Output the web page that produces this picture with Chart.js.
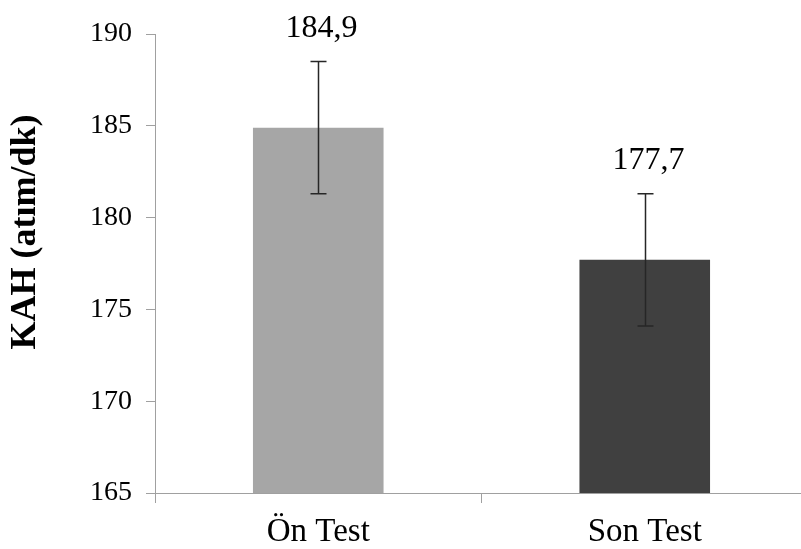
<!DOCTYPE html>
<html>
<head>
<meta charset="utf-8">
<script src="https://cdn.jsdelivr.net/npm/chart.js@4"></script>
<style>
  html, body { margin: 0; padding: 0; background: #fff; overflow: hidden; }
  #wrap { width: 801px; height: 549px; overflow: hidden; }
</style>
</head>
<body>
<div id="wrap">
  <canvas id="chart" width="812" height="549"></canvas>
</div>
<script>
/* ===== DATA ===== */
const categories = ['Ön Test', 'Son Test'];
const means = [184.9, 177.7];
const sds = [3.6, 3.6];
const barColors = ['#a6a6a6', '#404040'];
const yTicks = [165, 170, 175, 180, 185, 190];
const yTitle = 'KAH (atım/dk)';

const FONT = "'Liberation Serif', 'Times New Roman', serif";
const AXIS_GRAY = '#a0a0a0';

// error bars + value labels (comma decimal)
const errorBarPlugin = {
  id: 'errorBars',
  afterDatasetsDraw(chart) {
    const { ctx, scales: { y } } = chart;
    const meta = chart.getDatasetMeta(0);
    ctx.save();
    meta.data.forEach((bar, i) => {
      const x = Math.round(bar.x) + 0.5;
      const top = y.getPixelForValue(means[i] + sds[i]);
      const bot = y.getPixelForValue(means[i] - sds[i]);
      ctx.strokeStyle = '#262626';
      ctx.lineWidth = 1.5;
      ctx.beginPath();
      ctx.moveTo(x, top); ctx.lineTo(x, bot);
      ctx.moveTo(x - 8, top); ctx.lineTo(x + 8, top);
      ctx.moveTo(x - 8, bot); ctx.lineTo(x + 8, bot);
      ctx.stroke();

      ctx.fillStyle = '#000';
      ctx.font = '32px ' + FONT;
      ctx.textAlign = 'center';
      ctx.textBaseline = 'alphabetic';
      ctx.fillText(means[i].toFixed(1).replace('.', ','), x + 3, top - 25);
    });
    ctx.restore();
  }
};

// rotated y title, sits a bit above the plot centre like the original
const yTitlePlugin = {
  id: 'yTitle',
  afterDraw(chart) {
    const { ctx } = chart;
    ctx.save();
    ctx.translate(26, 232);
    ctx.rotate(-Math.PI / 2);
    ctx.font = 'bold 36px ' + FONT;
    ctx.fillStyle = '#000';
    ctx.textAlign = 'center';
    ctx.textBaseline = 'middle';
    ctx.fillText(yTitle, 0, 0);
    ctx.restore();
  }
};

new Chart(document.getElementById('chart'), {
  type: 'bar',
  data: {
    labels: categories,
    datasets: [{
      data: means,
      backgroundColor: barColors,
      borderWidth: 0,
      categoryPercentage: 1,
      barPercentage: 0.4,
    }]
  },
  options: {
    responsive: false,
    animation: false,
    devicePixelRatio: 1,
    layout: { padding: { top: 34, right: 4, left: 0, bottom: 0 } },
    plugins: {
      legend: { display: false },
      tooltip: { enabled: false },
    },
    scales: {
      x: {
        offset: true,
        grid: { offset: true, drawOnChartArea: false, drawTicks: true, tickLength: 10, color: AXIS_GRAY },
        border: { color: AXIS_GRAY },
        ticks: { color: '#000', font: { family: FONT, size: 33 }, padding: 10, maxRotation: 0 },
        afterFit: s => { s.height = 56; },
      },
      y: {
        min: 165,
        max: 190,
        afterBuildTicks: s => { s.ticks = yTicks.map(v => ({ value: v })); },
        grid: { drawOnChartArea: false, drawTicks: true, tickLength: 9, color: AXIS_GRAY },
        border: { color: AXIS_GRAY },
        ticks: { color: '#000', font: { family: FONT, size: 28 }, padding: 14 },
        afterFit: s => { s.width = 155; },
      }
    }
  },
  plugins: [errorBarPlugin, yTitlePlugin]
});
</script>
</body>
</html>
